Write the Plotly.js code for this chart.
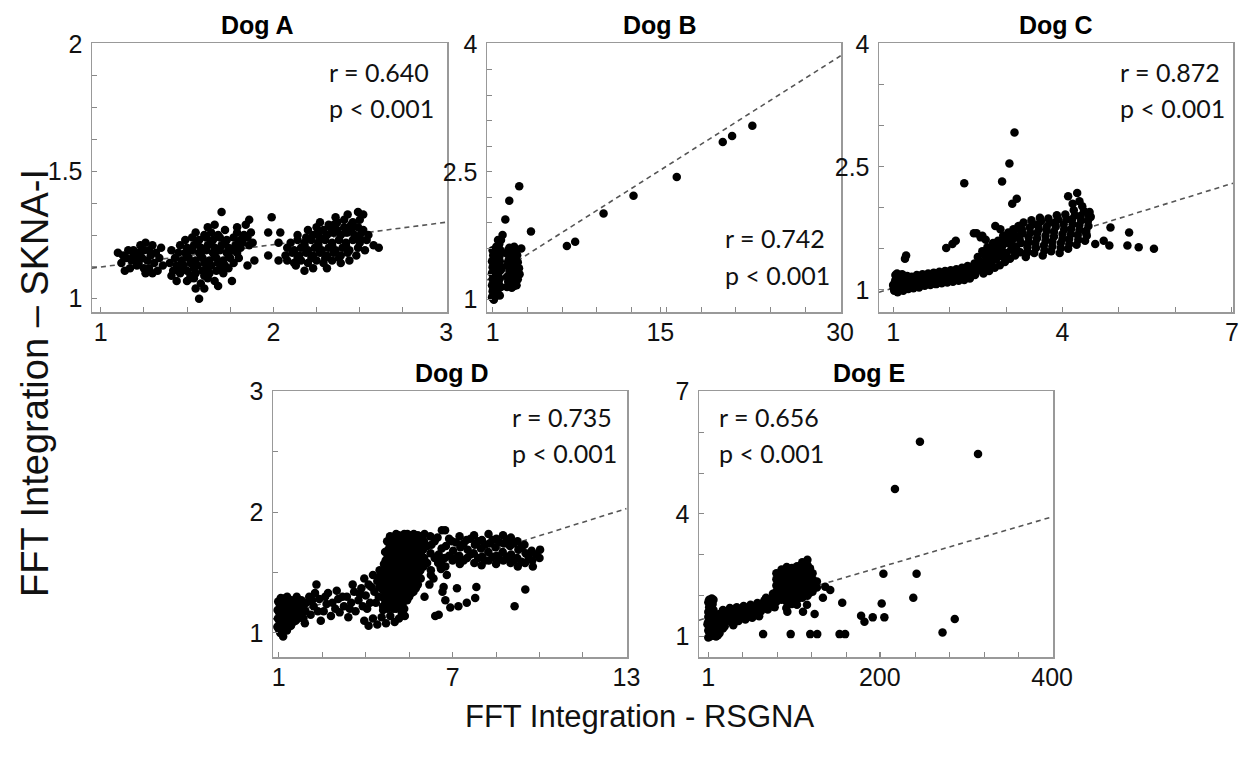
<!DOCTYPE html>
<html><head><meta charset="utf-8">
<script src="https://cdn.plot.ly/plotly-3.0.1.min.js"></script>
<style>html,body{margin:0;padding:0;background:#fff}#chart{width:1239px;height:759px}</style>
</head><body><div id="chart"></div>
<script>
const dogNames = ["Dog A","Dog B","Dog C","Dog D","Dog E"];
const rTexts = ["r = 0.640","r = 0.742","r = 0.872","r = 0.735","r = 0.656"];
const pTexts = ["p < 0.001","p < 0.001","p < 0.001","p < 0.001","p < 0.001"];
const xTickVals = [[1,2,3],[1,15,30],[1,4,7],[1,7,13],[1,200,400]];
const yTickVals = [[1,1.5,2],[1,2.5,4],[1,2.5,4],[1,2,3],[1,4,7]];
const xAxisTitle = "FFT Integration - RSGNA";
const yAxisTitle = "FFT Integration \u2013 SKNA-I";

// regression lines: [x0, y0, x1, y1]
const fitA = [0.95,1.12,3.0,1.30];
const fitB = [0.53,1.23,30.05,3.86];
const fitC = [0.75,0.97,7.02,2.30];
const fitD = [0.8,1.115,13,2.03];
const fitE = [-9.8,1.40,400,3.93];

const dogA = [
[1.10,1.18],[1.12,1.14],[1.14,1.11],[1.15,1.16],[1.17,1.12],[1.18,1.15],[1.19,1.19],[1.20,1.16],[1.21,1.13],[1.22,1.18],[1.23,1.21],[1.24,1.16],[1.25,1.12],[1.25,1.19],[1.26,1.22],[1.27,1.15],[1.28,1.19],[1.28,1.12],[1.29,1.17],[1.30,1.21],[1.31,1.14],[1.32,1.18],[1.33,1.11],[1.34,1.16],[1.35,1.20],[1.22,1.14],[1.26,1.10],[1.30,1.10],[1.19,1.17],[1.36,1.13],[1.16,1.19],[1.13,1.17],
[1.50,1.07],[1.54,1.08],[1.58,1.06],[1.62,1.08],[1.66,1.07],[1.52,1.09],
[1.57,1.00],[1.55,1.04],[1.60,1.04],[1.68,1.05],[1.76,1.07],[1.85,1.13],[1.41,1.09],[1.44,1.07],
[1.42,1.11],[1.46,1.10],[1.50,1.11],[1.55,1.10],[1.59,1.11],[1.63,1.10],[1.67,1.11],[1.71,1.10],[1.74,1.12],
[1.40,1.14],[1.44,1.13],[1.48,1.13],[1.52,1.14],[1.56,1.13],[1.60,1.14],[1.64,1.13],[1.68,1.14],[1.72,1.13],[1.77,1.14],[1.80,1.16],
[1.43,1.16],[1.47,1.15],[1.51,1.16],[1.55,1.15],[1.59,1.16],[1.63,1.15],[1.67,1.16],[1.71,1.15],[1.75,1.16],[1.79,1.18],
[1.41,1.19],[1.45,1.18],[1.49,1.18],[1.53,1.19],[1.57,1.18],[1.61,1.19],[1.65,1.18],[1.69,1.19],[1.73,1.18],[1.77,1.19],[1.81,1.20],
[1.46,1.21],[1.50,1.20],[1.54,1.21],[1.58,1.20],[1.62,1.21],[1.66,1.20],[1.70,1.21],[1.74,1.20],[1.78,1.21],[1.82,1.22],[1.86,1.21],
[1.49,1.23],[1.53,1.24],[1.57,1.23],[1.61,1.24],[1.65,1.23],[1.69,1.24],[1.73,1.23],[1.77,1.24],[1.81,1.23],[1.85,1.24],[1.88,1.22],
[1.55,1.26],[1.60,1.25],[1.64,1.26],[1.68,1.25],[1.72,1.27],[1.79,1.26],[1.83,1.25],[1.87,1.26],
[1.62,1.28],[1.66,1.29],[1.84,1.29],[1.86,1.31],[1.70,1.34],[1.79,1.28],
[1.46,1.12],[1.54,1.12],[1.62,1.12],[1.70,1.12],[1.50,1.17],[1.58,1.17],[1.66,1.17],[1.74,1.17],[1.56,1.22],[1.64,1.22],[1.72,1.22],[1.80,1.22],[1.52,1.08],[1.60,1.09],
[1.99,1.32],[1.97,1.26],[2.04,1.26],[2.03,1.22],[1.97,1.17],[2.03,1.15],[1.89,1.15],
[2.18,1.11],[2.23,1.12],[2.31,1.12],[2.13,1.13],
[2.08,1.15],[2.12,1.14],[2.16,1.15],[2.20,1.14],[2.25,1.15],[2.29,1.14],[2.34,1.15],[2.39,1.14],[2.44,1.15],
[2.07,1.17],[2.11,1.18],[2.15,1.17],[2.19,1.18],[2.23,1.17],[2.27,1.18],[2.31,1.17],[2.35,1.18],[2.39,1.17],[2.43,1.18],[2.48,1.17],
[2.08,1.20],[2.12,1.19],[2.16,1.20],[2.20,1.19],[2.24,1.20],[2.28,1.19],[2.32,1.20],[2.36,1.19],[2.40,1.20],[2.44,1.19],[2.49,1.20],[2.53,1.19],
[2.10,1.22],[2.14,1.23],[2.18,1.22],[2.22,1.23],[2.26,1.22],[2.30,1.23],[2.34,1.22],[2.38,1.23],[2.42,1.22],[2.46,1.23],[2.50,1.22],[2.54,1.23],[2.58,1.21],[2.61,1.20],
[2.14,1.25],[2.19,1.24],[2.23,1.25],[2.27,1.24],[2.31,1.25],[2.35,1.26],[2.39,1.25],[2.43,1.26],[2.47,1.25],[2.51,1.26],[2.55,1.25],
[2.20,1.27],[2.25,1.28],[2.29,1.27],[2.33,1.28],[2.37,1.27],[2.41,1.28],[2.45,1.27],[2.49,1.28],[2.52,1.27],
[2.27,1.30],[2.32,1.29],[2.37,1.30],[2.41,1.31],[2.46,1.30],[2.50,1.31],
[2.36,1.32],[2.43,1.33],[2.49,1.34],[2.52,1.33],
[2.14,1.16],[2.22,1.16],[2.30,1.16],[2.38,1.16],[2.18,1.21],[2.26,1.21],[2.34,1.21],[2.42,1.21],[2.50,1.24],[2.26,1.26],[2.34,1.26],[2.42,1.26],[2.35,1.29],[2.45,1.29]
];

const dogB = [
[0.95,1.03],[1.2,1.06],[1.0,1.10],[1.3,1.13],[0.95,1.17],[1.25,1.20],[1.0,1.24],[1.35,1.27],[0.95,1.31],[1.2,1.34],[1.0,1.38],[1.4,1.41],[0.95,1.45],[1.25,1.48],[1.05,1.52],[1.45,1.55],[1.0,1.58],[1.3,1.62],[1.6,1.05],[1.7,1.15],[1.6,1.25],[1.7,1.35],[1.6,1.45],[1.55,1.65],[1.7,1.70],[1.83,1.76],[1.5,1.60],[1.1,1.00],[1.4,1.09],[1.5,1.20],[1.5,1.32],[1.55,1.40],[1.15,1.28],[1.15,1.43],
[1.1,1.08],[1.35,1.05],[1.45,1.17],[1.1,1.20],[1.35,1.36],[1.1,1.48],[1.4,1.50],[1.25,1.56],[1.6,1.52],[1.65,1.58],[1.45,1.70],[1.05,1.15],[1.2,1.12],[1.2,1.25],[1.3,1.42],
[2.2,1.15],[2.6,1.14],[3.0,1.17],[2.3,1.21],[2.8,1.20],[3.1,1.24],[2.2,1.27],[2.6,1.28],[3.0,1.31],[2.4,1.34],[2.9,1.36],[2.2,1.40],[2.7,1.42],[3.1,1.44],[2.4,1.48],[2.9,1.50],[2.2,1.54],[2.6,1.56],[3.0,1.58],[2.4,1.61],[2.8,1.62],
[2.4,1.18],[2.8,1.16],[2.5,1.24],[2.95,1.27],[2.4,1.29],[2.8,1.31],[2.6,1.37],[2.3,1.45],[2.85,1.45],[2.5,1.52],[3.05,1.52],[2.7,1.58],[2.3,1.58],[3.2,1.37],[3.25,1.30],
[3.22,2.33],[2.39,2.16],[2.06,1.94],[4.20,1.80],[3.39,1.60],[7.20,1.63],[7.89,1.68],[10.26,2.01],[12.76,2.22],[16.37,2.44],[20.21,2.85],[20.99,2.92],[22.68,3.04]
];

const dogC = [
[1.02,0.99],[1.05,1.04],[1.03,1.09],[1.06,1.14],[1.04,1.18],[1.10,1.01],[1.12,1.07],[1.11,1.12],[1.14,1.16],[1.18,0.99],[1.20,1.05],[1.19,1.10],[1.22,1.14],[1.27,1.01],[1.28,1.07],[1.30,1.12],[1.33,1.16],
[1.00,1.06],[1.08,0.97],[1.15,1.03],[1.24,1.03],[1.07,1.20],[1.16,1.19],[1.21,1.38],[1.23,1.42],
[1.36,1.02],[1.38,1.08],[1.40,1.13],[1.42,1.18],[1.46,1.03],[1.48,1.09],[1.50,1.14],[1.52,1.19],[1.56,1.05],[1.58,1.10],[1.60,1.15],[1.62,1.20],[1.66,1.06],[1.68,1.11],[1.70,1.16],[1.72,1.21],[1.76,1.07],[1.78,1.12],[1.80,1.17],[1.82,1.22],[1.86,1.08],[1.88,1.13],[1.90,1.18],[1.92,1.23],[1.96,1.09],[1.98,1.14],[2.00,1.19],[2.02,1.24],[2.06,1.10],[2.08,1.15],[2.10,1.20],[2.12,1.25],[2.16,1.11],[2.18,1.16],[2.20,1.21],[2.22,1.27],[2.26,1.12],[2.28,1.18],[2.30,1.23],[2.32,1.29],[2.36,1.14],[2.38,1.20],[2.40,1.26],
[1.01,1.02],[1.04,1.12],[1.09,1.04],[1.09,1.16],[1.13,1.10],[1.17,1.02],[1.17,1.14],[1.25,1.08],[1.25,1.17],[1.32,1.04],[1.34,1.10],[1.37,1.15],[1.44,1.06],[1.45,1.16],[1.53,1.08],[1.55,1.17],[1.63,1.08],[1.65,1.17],[1.73,1.09],[1.75,1.18],[1.83,1.10],[1.85,1.19],[1.93,1.11],[1.95,1.20],[2.03,1.12],[2.05,1.21],[2.13,1.13],[2.15,1.22],[2.23,1.14],[2.25,1.24],[2.33,1.16],[2.35,1.25],[2.43,1.22],[2.44,1.32],
[2.45,1.18],[2.47,1.30],[2.50,1.40],[2.52,1.24],[2.55,1.34],[2.58,1.47],[2.60,1.20],[2.62,1.28],[2.65,1.38],[2.67,1.52],[2.70,1.23],[2.72,1.32],[2.74,1.43],[2.77,1.57],[2.80,1.27],[2.82,1.37],[2.84,1.48],[2.86,1.60],[2.89,1.30],[2.91,1.41],[2.93,1.53],[2.95,1.66],[2.98,1.34],[3.00,1.45],[3.02,1.57],[3.04,1.70],[3.07,1.38],[3.09,1.49],[3.11,1.61],[3.13,1.74],[3.16,1.42],[3.18,1.53],[3.20,1.65],[3.22,1.78],[3.25,1.46],[3.27,1.57],[3.29,1.69],[3.31,1.82],
[2.52,1.32],[2.57,1.26],[2.62,1.43],[2.67,1.31],[2.70,1.47],[2.76,1.36],[2.79,1.52],[2.85,1.40],[2.88,1.55],[2.93,1.45],[2.96,1.60],[3.02,1.40],[3.05,1.63],[3.10,1.55],[3.14,1.68],[3.20,1.47],[3.24,1.62],[3.28,1.74],
[2.48,1.69],[2.55,1.64],[2.64,1.61],[1.94,1.51],[2.05,1.56],[2.11,1.60],[2.43,1.69],[2.58,1.66],[2.81,1.78],[2.90,1.74],[3.25,1.78],[3.26,1.73],
[3.35,1.40],[3.38,1.52],[3.40,1.64],[3.42,1.76],[3.45,1.85],[3.50,1.45],[3.52,1.57],[3.55,1.69],[3.57,1.80],[3.60,1.88],[3.65,1.42],[3.67,1.54],[3.70,1.66],[3.72,1.77],[3.75,1.87],[3.80,1.47],[3.82,1.59],[3.85,1.71],[3.87,1.82],[3.90,1.91],[3.95,1.45],[3.97,1.57],[4.00,1.68],[4.02,1.80],[4.05,1.92],[4.10,1.50],[4.12,1.62],[4.15,1.74],[4.17,1.86],[4.20,1.97],[4.25,1.55],[4.27,1.67],[4.30,1.79],[4.32,1.90],[4.35,2.02],[4.40,1.60],[4.42,1.72],[4.45,1.84],[4.48,1.95],
[3.38,1.46],[3.40,1.58],[3.43,1.70],[3.47,1.80],[3.53,1.51],[3.55,1.63],[3.58,1.74],[3.62,1.84],[3.68,1.48],[3.70,1.60],[3.72,1.72],[3.77,1.82],[3.82,1.53],[3.85,1.65],[3.88,1.77],[3.92,1.86],[3.97,1.51],[4.00,1.62],[4.03,1.74],[4.07,1.86],[4.12,1.56],[4.15,1.68],[4.18,1.80],[4.22,1.91],[4.28,1.61],[4.30,1.73],[4.33,1.85],[4.38,1.96],[4.43,1.66],[4.46,1.78],[4.50,1.89],[4.30,2.08],[4.18,2.05],
[3.15,2.92],[3.06,2.54],[2.93,2.32],[2.26,2.30],[3.11,2.05],[3.19,2.11],[4.26,2.18],[4.10,2.14],[4.85,1.76],[5.18,1.70],[5.15,1.54],[5.35,1.52],[5.62,1.50],[4.58,1.56],[4.73,1.60],[4.83,1.54],[4.46,1.91],[4.42,1.69]
];

const dogD = [
[0.95,1.05],[0.97,1.12],[0.96,1.19],[0.98,1.26],[1.05,1.00],[1.08,1.08],[1.06,1.15],[1.09,1.22],[1.07,1.29],[1.15,0.97],[1.18,1.04],[1.16,1.11],[1.19,1.18],[1.17,1.25],[1.28,1.02],[1.30,1.09],[1.27,1.16],[1.31,1.23],[1.29,1.30],[1.42,1.06],[1.45,1.13],[1.40,1.20],[1.44,1.27],[1.58,1.10],[1.60,1.17],[1.56,1.24],[1.62,1.30],[1.75,1.14],[1.72,1.21],[1.78,1.27],[1.90,1.08],[1.92,1.18],[1.95,1.25],[2.05,1.30],
[1.00,1.03],[1.02,1.10],[1.01,1.17],[1.03,1.24],[1.12,1.05],[1.12,1.12],[1.13,1.19],[1.12,1.26],[1.23,1.08],[1.22,1.15],[1.24,1.22],[1.23,1.29],[1.35,1.05],[1.36,1.13],[1.35,1.20],[1.36,1.27],[1.50,1.09],[1.50,1.16],[1.51,1.23],[1.66,1.12],[1.68,1.19],[1.66,1.26],[1.85,1.12],[1.85,1.22],
[2.10,1.15],[2.20,1.22],[2.25,1.33],[2.30,1.40],[2.40,1.28],[2.45,1.10],[2.55,1.18],[2.65,1.24],[2.70,1.33],[2.80,1.14],[2.95,1.20],[3.05,1.28],[3.10,1.17],[3.25,1.22],[3.35,1.30],[3.40,1.13],[3.50,1.25],[3.60,1.34],[3.65,1.18],[3.75,1.27],[3.85,1.37],[3.90,1.22],[3.95,1.45],[4.00,1.31],[4.10,1.40],[4.15,1.25],[4.25,1.48],[4.30,1.34],[4.40,1.43],
[2.15,1.27],[2.35,1.18],[2.60,1.30],[2.85,1.25],[3.00,1.35],[3.20,1.30],[3.45,1.20],[3.55,1.40],[3.80,1.32],[4.05,1.20],[4.20,1.38],[4.35,1.25],
[3.95,1.10],[4.10,1.06],[4.25,1.12],[4.40,1.07],[4.55,1.13],[4.70,1.08],[4.85,1.14],[5.00,1.09],[5.15,1.12],[5.25,1.16],[4.60,1.19],[4.95,1.20],[5.10,1.22],
[4.45,1.30],[4.47,1.38],[4.44,1.46],[4.48,1.52],
[4.60,1.22],[4.62,1.29],[4.58,1.36],[4.61,1.43],[4.59,1.50],[4.63,1.57],
[4.75,1.20],[4.77,1.27],[4.74,1.34],[4.76,1.41],[4.73,1.48],[4.77,1.55],[4.75,1.62],[4.78,1.69],[4.74,1.76],
[4.90,1.23],[4.88,1.30],[4.91,1.37],[4.89,1.44],[4.92,1.51],[4.90,1.58],[4.87,1.65],[4.91,1.72],[4.89,1.79],
[5.05,1.20],[5.03,1.27],[5.06,1.34],[5.04,1.41],[5.07,1.48],[5.05,1.55],[5.02,1.62],[5.06,1.69],[5.04,1.76],[5.05,1.82],
[5.20,1.23],[5.22,1.30],[5.19,1.37],[5.21,1.44],[5.18,1.51],[5.22,1.58],[5.20,1.65],[5.17,1.72],[5.21,1.79],
[5.35,1.14],[5.33,1.20],[5.36,1.27],[5.34,1.34],[5.37,1.41],[5.35,1.48],[5.32,1.55],[5.36,1.62],[5.34,1.69],[5.35,1.76],[5.33,1.82],
[5.50,1.30],[5.52,1.37],[5.49,1.44],[5.51,1.51],[5.48,1.58],[5.52,1.65],[5.50,1.72],[5.51,1.79],
[5.65,1.34],[5.63,1.41],[5.66,1.48],[5.64,1.55],[5.67,1.62],[5.65,1.69],[5.62,1.76],[5.66,1.82],
[5.80,1.40],[5.82,1.47],[5.79,1.54],[5.81,1.61],[5.78,1.68],[5.82,1.75],[5.80,1.81],
[4.68,1.25],[4.67,1.32],[4.69,1.39],[4.68,1.46],[4.66,1.53],[4.69,1.60],[4.67,1.67],
[4.83,1.24],[4.82,1.31],[4.84,1.38],[4.83,1.45],[4.81,1.52],[4.84,1.59],[4.82,1.66],[4.83,1.73],[4.84,1.80],
[4.98,1.22],[4.97,1.29],[4.99,1.36],[4.98,1.43],[4.96,1.50],[4.99,1.57],[4.97,1.64],[4.98,1.71],[4.99,1.78],
[5.13,1.25],[5.12,1.32],[5.14,1.39],[5.13,1.46],[5.11,1.53],[5.14,1.60],[5.12,1.67],[5.13,1.74],[5.14,1.81],
[5.28,1.17],[5.27,1.24],[5.29,1.31],[5.28,1.38],[5.26,1.45],[5.29,1.52],[5.27,1.59],[5.28,1.66],[5.29,1.73],[5.28,1.80],
[5.43,1.27],[5.42,1.34],[5.44,1.41],[5.43,1.48],[5.41,1.55],[5.44,1.62],[5.42,1.69],[5.43,1.76],[5.44,1.82],
[5.58,1.33],[5.57,1.40],[5.59,1.47],[5.58,1.54],[5.56,1.61],[5.59,1.68],[5.57,1.75],[5.58,1.81],
[5.73,1.37],[5.72,1.44],[5.74,1.51],[5.73,1.58],[5.71,1.65],[5.74,1.72],[5.72,1.79],
[5.90,1.45],[5.89,1.52],[5.91,1.59],[5.90,1.66],[5.88,1.73],[5.91,1.80],
[6.00,1.55],[6.02,1.62],[5.98,1.69],[6.01,1.76],[6.03,1.82],
[6.25,1.52],[6.24,1.66],[6.27,1.73],[6.23,1.80],
[6.50,1.58],[6.52,1.65],[6.48,1.79],
[6.75,1.55],[6.73,1.62],[6.77,1.72],[6.74,1.85],
[7.00,1.60],[7.02,1.68],[6.98,1.76],
[7.25,1.57],[7.23,1.64],[7.27,1.71],[7.24,1.80],
[7.50,1.62],[7.52,1.69],[7.48,1.77],
[7.75,1.58],[7.73,1.66],[7.77,1.73],[7.74,1.81],
[8.00,1.56],[8.02,1.63],[7.98,1.70],[8.01,1.77],
[8.25,1.60],[8.23,1.67],[8.27,1.74],[8.24,1.82],
[8.50,1.57],[8.52,1.64],[8.48,1.71],[8.51,1.78],
[8.75,1.60],[8.73,1.67],[8.77,1.74],[8.74,1.81],
[9.00,1.58],[9.02,1.65],[8.98,1.72],[9.01,1.79],
[9.25,1.55],[9.23,1.62],[9.27,1.69],[9.24,1.76],
[9.50,1.58],[9.52,1.66],[9.48,1.73],
[9.75,1.60],[9.73,1.68],[9.77,1.55],
[10.00,1.62],[10.02,1.69],
[6.12,1.58],[6.12,1.72],[6.38,1.62],[6.38,1.76],[6.62,1.60],[6.62,1.70],[6.88,1.64],[6.88,1.78],[7.12,1.62],[7.12,1.75],[7.38,1.60],[7.38,1.74],[7.62,1.65],[7.62,1.78],[7.88,1.62],[7.88,1.76],[8.12,1.60],[8.12,1.73],[8.38,1.63],[8.38,1.77],[8.62,1.61],[8.62,1.75],[8.88,1.63],[8.88,1.77],[9.12,1.60],[9.12,1.74],[9.38,1.59],[9.38,1.71],[9.62,1.63],[9.88,1.65],
[6.03,1.30],[6.34,1.45],[6.69,1.38],[6.75,1.27],[6.52,1.15],[6.92,1.21],[7.20,1.22],[7.49,1.25],[7.78,1.29],[7.82,1.38],[7.15,1.37],[6.80,1.48],[6.60,1.53],[6.20,1.40],[6.40,1.14],[6.65,1.34],[6.25,1.48],
[9.51,1.36],[9.14,1.22],[6.63,1.85]
];

const dogE = [
[1,0.98],[4,1.05],[2,1.12],[6,1.18],[3,1.25],[7,1.32],[2,1.40],[5,1.47],[3,1.55],[6,1.62],[4,1.70],[5,1.78],[3,1.86],[8,1.02],[9,1.10],[10,1.22],[12,1.03],[14,1.08],[0,1.30],[1,1.60],[8,1.45],[9,1.55],[2,1.90],[7,1.90],
[3,1.00],[6,1.08],[1,1.15],[4,1.22],[8,1.28],[1,1.36],[5,1.40],[8,1.52],[1,1.48],[4,1.58],[7,1.65],[2,1.72],[6,1.80],[1,1.84],[5,1.93],[10,1.00],[11,1.35],[12,1.45],
[12,1.30],[16,1.40],[14,1.55],[18,1.65],[20,1.33],[24,1.46],[22,1.60],[26,1.70],[28,1.35],[32,1.48],[30,1.62],[34,1.72],[36,1.38],[40,1.50],[38,1.64],[42,1.75],[44,1.42],[48,1.55],[46,1.68],[50,1.78],[52,1.46],[56,1.60],[54,1.72],[58,1.82],[60,1.50],[20,1.25],[30,1.28],[18,1.20],
[14,1.28],[15,1.48],[19,1.55],[22,1.38],[25,1.55],[27,1.62],[30,1.40],[33,1.58],[37,1.45],[40,1.62],[44,1.58],[47,1.48],[50,1.62],[53,1.55],[57,1.70],[60,1.65],[62,1.80],
[62,1.62],[64,1.75],[66,1.88],[70,1.66],[72,1.80],[74,1.92],[78,1.72],[80,1.85],[82,1.98],[68,1.95],[76,2.05],
[80,1.95],[80,2.10],[80,2.25],[80,2.40],[80,2.55],
[86,1.90],[86,2.05],[86,2.20],[86,2.35],[86,2.50],[86,2.64],
[92,1.85],[92,2.00],[92,2.15],[92,2.30],[92,2.45],[92,2.60],[92,2.70],
[98,1.80],[98,1.95],[98,2.10],[98,2.25],[98,2.40],[98,2.55],[98,2.68],
[104,1.90],[104,2.05],[104,2.20],[104,2.35],[104,2.50],[104,2.65],[104,2.72],
[110,1.95],[110,2.10],[110,2.25],[110,2.40],[110,2.55],[110,2.70],[110,2.82],
[116,2.00],[116,2.15],[116,2.30],[116,2.45],[116,2.60],[116,2.75],[116,2.88],
[122,2.10],[122,2.25],[122,2.40],[122,2.55],
[127,2.20],[127,2.35],
[83,2.02],[83,2.17],[83,2.32],[83,2.47],[89,1.97],[89,2.12],[89,2.27],[89,2.42],[89,2.57],[95,1.92],[95,2.07],[95,2.22],[95,2.37],[95,2.52],[95,2.65],[101,1.87],[101,2.02],[101,2.17],[101,2.32],[101,2.47],[101,2.62],[107,1.97],[107,2.12],[107,2.27],[107,2.42],[107,2.57],[107,2.70],[113,2.02],[113,2.17],[113,2.32],[113,2.47],[113,2.62],[113,2.77],[119,2.07],[119,2.22],[119,2.37],[119,2.52],[119,2.67],
[64.6,1.06],[96.6,1.06],[119.3,1.06],[127.4,1.06],[153.3,1.06],[159.8,1.06],[272.8,1.10],[287,1.43],[92.7,1.61],[91.5,1.70],[103.9,1.78],[110.9,1.61],[115.5,1.78],[124.4,1.55],[134,1.95],[136.7,2.22],[142.5,2.14],[156.4,1.83],[178.3,1.51],[182.2,1.36],[191.8,1.47],[205.3,1.47],[202.2,1.81],[204.2,2.54],[238.9,1.95],[242.7,2.54],[217.6,4.61],[246.6,5.77],[314.0,5.47]
];

const allDogs = [dogA, dogB, dogC, dogD, dogE];
const allFits = [fitA, fitB, fitC, fitD, fitE];

// ---------- layout / style ----------
const W = 1239, H = 759;
const boxes = [ // pixel boxes [left, right, top, bottom]
  [92,447,43,312],[487,841,43,312],[879,1233,43,312],
  [273,627,391,657],[699,1053,391,657]
];
const xRanges = [[0.95,3.005],[0.53,30.08],[0.75,7.02],[0.8,13.02],[-9.8,401]];
const yRanges = [[0.948,2.003],[0.856,4.01],[0.73,4.01],[0.8,3.005],[0.5,7.01]];
const xMinor = [[1,0.25],[1,2.9],[1,1],[1,1.5],[1,40]];
const yMinor = [[1,0.125],[1,0.3],[1,0.5],[1,0.5],[1,1]];
const titlePos = [[257,25],[660,25],[1056,25],[452,373],[869,373]];
const statPos = [[327,72,108],[723,238,275],[1118,72,108],[510,417,453],[717,417,453]];

const tickFont = {family:"'Liberation Sans',Arial,sans-serif", size:25, color:'#111'};
const traces = [];
const layout = {
  width: W, height: H, margin:{l:0,r:0,t:0,b:0},
  paper_bgcolor:'#fff', plot_bgcolor:'#fff', showlegend:false,
  annotations: []
};
for (let i=0;i<5;i++){
  const sfx = i===0 ? '' : String(i+1);
  const b = boxes[i];
  const f = allFits[i];
  traces.push({x:[f[0],f[2]], y:[f[1],f[3]], mode:'lines', xaxis:'x'+sfx, yaxis:'y'+sfx,
    line:{color:'#555', width:1.6, dash:'5px,4px'}, hoverinfo:'skip'});
  traces.push({x:allDogs[i].map(p=>p[0]), y:allDogs[i].map(p=>p[1]), mode:'markers',
    xaxis:'x'+sfx, yaxis:'y'+sfx, marker:{color:'#000', size:8.5, line:{width:0}}});
  const common = {showline:true, mirror:true, linecolor:'#999', linewidth:1.5, showgrid:false, zeroline:false,
    ticks:'inside', ticklen:5, tickcolor:'#888', tickwidth:1, tickmode:'array', tickfont:tickFont};
  layout['xaxis'+sfx] = Object.assign({}, common, {
    domain:[b[0]/W, b[1]/W], range:xRanges[i], anchor:'y'+sfx,
    tickvals:xTickVals[i], ticktext:xTickVals[i].map(String), ticklabelstandoff:-3,
    minor:{ticks:'inside', ticklen:5, tickcolor:'#888', tick0:xMinor[i][0], dtick:xMinor[i][1], showgrid:false}
  });
  layout['yaxis'+sfx] = Object.assign({}, common, {
    domain:[1-b[3]/H, 1-b[2]/H], range:yRanges[i], anchor:'x'+sfx,
    tickvals:yTickVals[i], ticktext:yTickVals[i].map(String), ticklabelstandoff:3,
    minor:{ticks:'inside', ticklen:5, tickcolor:'#888', tick0:yMinor[i][0], dtick:yMinor[i][1], showgrid:false}
  });
  layout.annotations.push({text:dogNames[i], xref:'paper', yref:'paper', x:titlePos[i][0]/W, y:1-titlePos[i][1]/H,
    xanchor:'center', yanchor:'middle', showarrow:false,
    font:{family:"'Liberation Sans',Arial,sans-serif", size:25, color:'#000', weight:'bold'}});
  const sp = statPos[i];
  const sfont = {family:"Lato,'Open Sans',sans-serif", size:25, color:'#111'};
  layout.annotations.push({text:rTexts[i], xref:'paper', yref:'paper', x:sp[0]/W, y:1-sp[1]/H,
    xanchor:'left', yanchor:'middle', showarrow:false, font:sfont});
  layout.annotations.push({text:pTexts[i], xref:'paper', yref:'paper', x:sp[0]/W, y:1-sp[2]/H,
    xanchor:'left', yanchor:'middle', showarrow:false, font:sfont});
}
layout.annotations.push({text:xAxisTitle, xref:'paper', yref:'paper', x:640/W, y:1-716/H,
  xanchor:'center', yanchor:'middle', showarrow:false,
  font:{family:"'Liberation Sans',Arial,sans-serif", size:31, color:'#111'}});
layout.annotations.push({text:yAxisTitle, xref:'paper', yref:'paper', x:35/W, y:1-383/H, textangle:-90,
  xanchor:'center', yanchor:'middle', showarrow:false,
  font:{family:"'Liberation Sans',Arial,sans-serif", size:38, color:'#111'}});

Plotly.newPlot('chart', traces, layout, {displayModeBar:false, staticPlot:true});
</script>
</body></html>
